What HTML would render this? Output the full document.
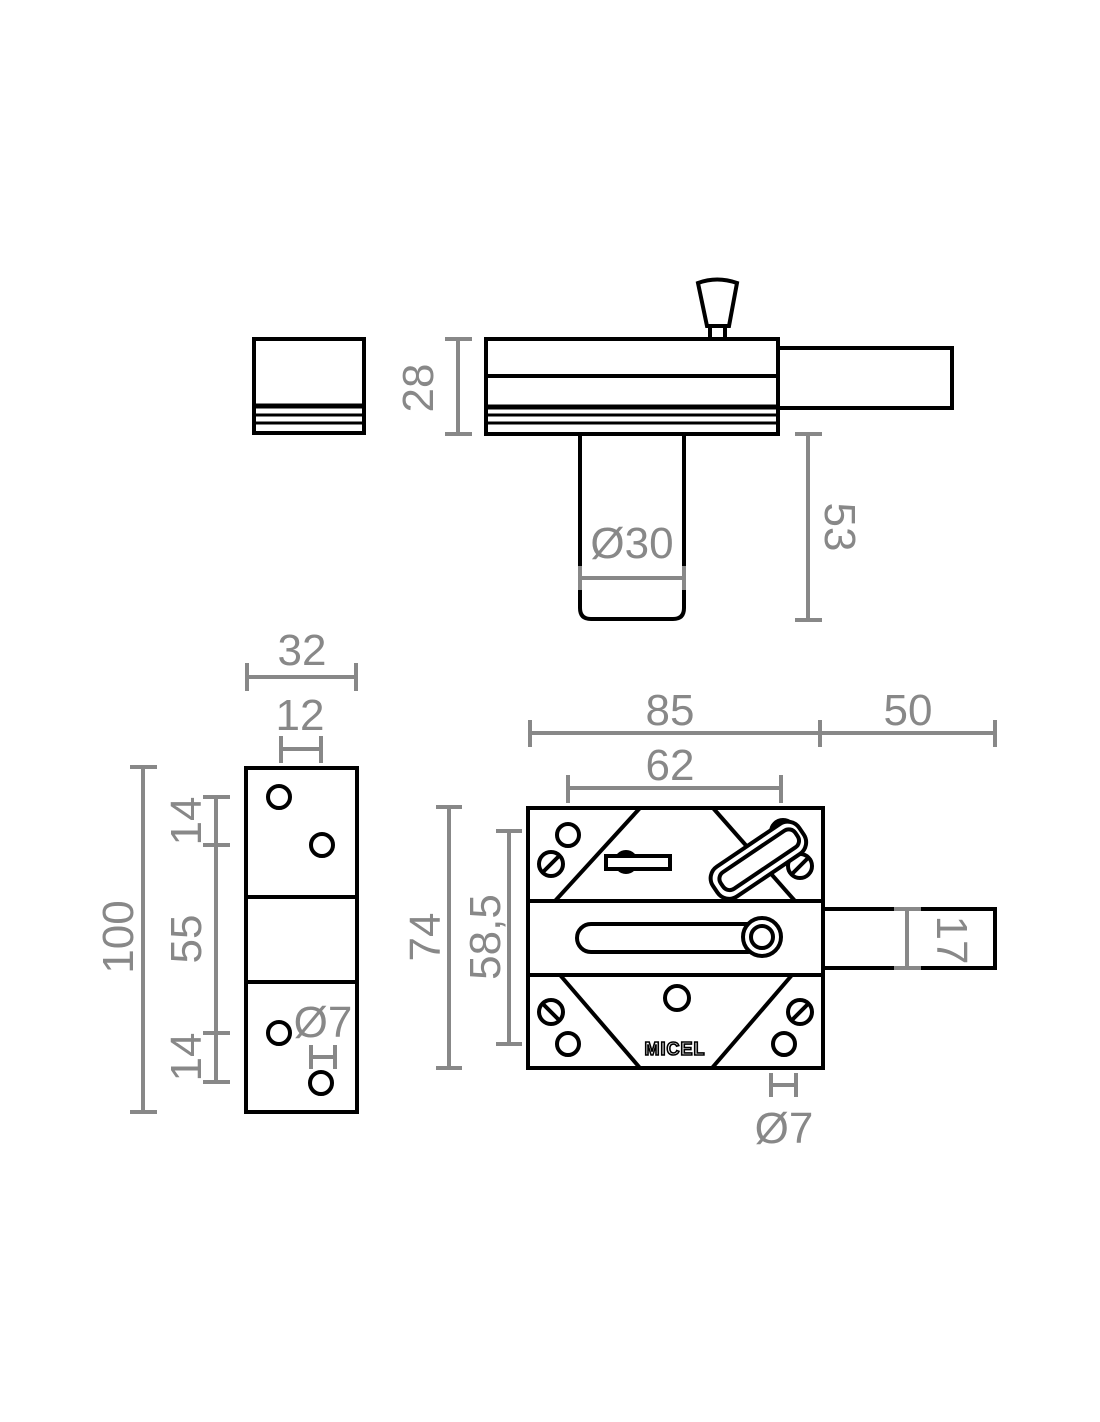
<!DOCTYPE html>
<html><head><style>body{margin:0;background:#fff}svg{display:block}</style></head><body>
<svg width="1100" height="1422" viewBox="0 0 1100 1422" xmlns="http://www.w3.org/2000/svg">
<g fill="none" stroke="#000" stroke-width="4">
<!-- top view -->
<rect x="254" y="339" width="110" height="94"/>
<line x1="254" y1="406" x2="364" y2="406" stroke-width="5"/>
<line x1="254" y1="415" x2="364" y2="415" stroke-width="3"/>
<line x1="254" y1="423" x2="364" y2="423" stroke-width="3"/>
<rect x="486" y="339" width="292" height="95"/>
<line x1="486" y1="376" x2="778" y2="376"/>
<line x1="486" y1="407" x2="778" y2="407" stroke-width="5"/>
<line x1="486" y1="415" x2="778" y2="415" stroke-width="3"/>
<line x1="486" y1="423" x2="778" y2="423" stroke-width="3"/>
<polyline points="778,348 952,348 952,408 778,408"/>
<path d="M698,283 Q717,276 737,283 L729,326 L707,326 Z"/>
<path d="M710,326 L710,339 M725,326 L725,339"/>
<path d="M580,434 L580,608 Q580,619 591,619 L673,619 Q684,619 684,608 L684,434"/>
<!-- side view -->
<rect x="246" y="768" width="111" height="344"/>
<line x1="246" y1="897" x2="357" y2="897"/>
<line x1="246" y1="982" x2="357" y2="982"/>
<circle cx="279" cy="797" r="11"/><circle cx="322" cy="845" r="11"/>
<circle cx="279" cy="1033" r="11"/><circle cx="321" cy="1083" r="11"/>
<!-- front view -->
<rect x="528" y="808" width="295" height="260"/>
<rect x="528" y="901" width="295" height="74" fill="#fff"/>
<polyline points="823,909 995,909 995,968 823,968"/>
<line x1="640" y1="808" x2="555" y2="901"/><line x1="713" y1="808" x2="795" y2="901"/>
<line x1="560" y1="975" x2="640" y2="1068"/><line x1="792" y1="975" x2="712" y2="1068"/>
<circle cx="568" cy="835" r="11"/>
<circle cx="551" cy="864" r="12"/><line x1="543" y1="872" x2="559" y2="856"/>
<circle cx="783" cy="832" r="12" fill="#fff"/>
<circle cx="800" cy="866" r="12" fill="#fff"/><line x1="792" y1="874" x2="808" y2="858"/>
<circle cx="626" cy="862" r="10" fill="#fff"/>
<rect x="606" y="856" width="64" height="13" fill="#fff"/>
<g transform="rotate(-34 757 860)">
<rect x="706" y="843" width="104" height="36" rx="14" fill="#fff"/>
<rect x="714" y="851" width="90" height="20" rx="8"/>
</g>
<rect x="577" y="924" width="185" height="28" rx="14"/>
<circle cx="762" cy="937" r="19" fill="#fff"/><circle cx="762" cy="937" r="11"/>
<circle cx="677" cy="998" r="12"/>
<circle cx="551" cy="1012" r="12"/><line x1="543" y1="1004" x2="559" y2="1020"/>
<circle cx="800" cy="1012" r="12"/><line x1="792" y1="1020" x2="808" y2="1004"/>
<circle cx="568" cy="1044" r="11"/><circle cx="784" cy="1044" r="11"/>
</g>
<text x="675" y="1055" font-family="Liberation Sans, sans-serif" font-weight="bold" font-size="18" text-anchor="middle" fill="#fff" stroke="#000" stroke-width="1.6" letter-spacing="1">MICEL</text>
<!-- dimensions -->
<g stroke="#888" stroke-width="4" fill="none">
<path d="M458,339 V434 M445,339 H472 M445,434 H472"/>
<path d="M808,434 V620 M795,434 H822 M795,620 H822"/>
<path d="M580,578 H684 M580,566 V590 M684,566 V590"/>
<path d="M247,677 H356 M247,663 V691 M356,663 V691"/>
<path d="M281,749 H321 M281,736 V763 M321,736 V763"/>
<path d="M143,767 V1112 M130,767 H157 M130,1112 H157"/>
<path d="M216,797 V1082 M203,797 H230 M203,845 H230 M203,1033 H230 M203,1082 H230"/>
<path d="M311,1057 H335 M311,1045 V1069 M335,1045 V1069"/>
<path d="M530,733 H995 M530,720 V747 M820,720 V747 M995,720 V747"/>
<path d="M568,788 H781 M568,775 V803 M781,775 V803"/>
<path d="M449,807 V1068 M436,807 H462 M436,1068 H462"/>
<path d="M509,831 V1044 M496,831 H522 M496,1044 H522"/>
<path d="M907,909 V968 M894,909 H921 M894,968 H921"/>
<path d="M771,1085 H796 M771,1073 V1097 M796,1073 V1097"/>
</g>
<g fill="#888" font-family="Liberation Sans, sans-serif" font-size="44" text-anchor="middle">
<text transform="translate(433,388) rotate(-90)">28</text>
<text transform="translate(825,527) rotate(90)">53</text>
<text x="632" y="558">Ø30</text>
<text x="302" y="665">32</text>
<text x="300" y="730">12</text>
<text transform="translate(133,937) rotate(-90)">100</text>
<text transform="translate(201,821) rotate(-90)">14</text>
<text transform="translate(201,939) rotate(-90)">55</text>
<text transform="translate(201,1057) rotate(-90)">14</text>
<text x="323" y="1037">Ø7</text>
<text x="670" y="725">85</text>
<text x="908" y="725">50</text>
<text x="670" y="780">62</text>
<text transform="translate(440,937) rotate(-90)">74</text>
<text transform="translate(500,937) rotate(-90)">58,5</text>
<text transform="translate(937,940) rotate(90)">17</text>
<text x="784" y="1143">Ø7</text>
</g>
</svg>
</body></html>
